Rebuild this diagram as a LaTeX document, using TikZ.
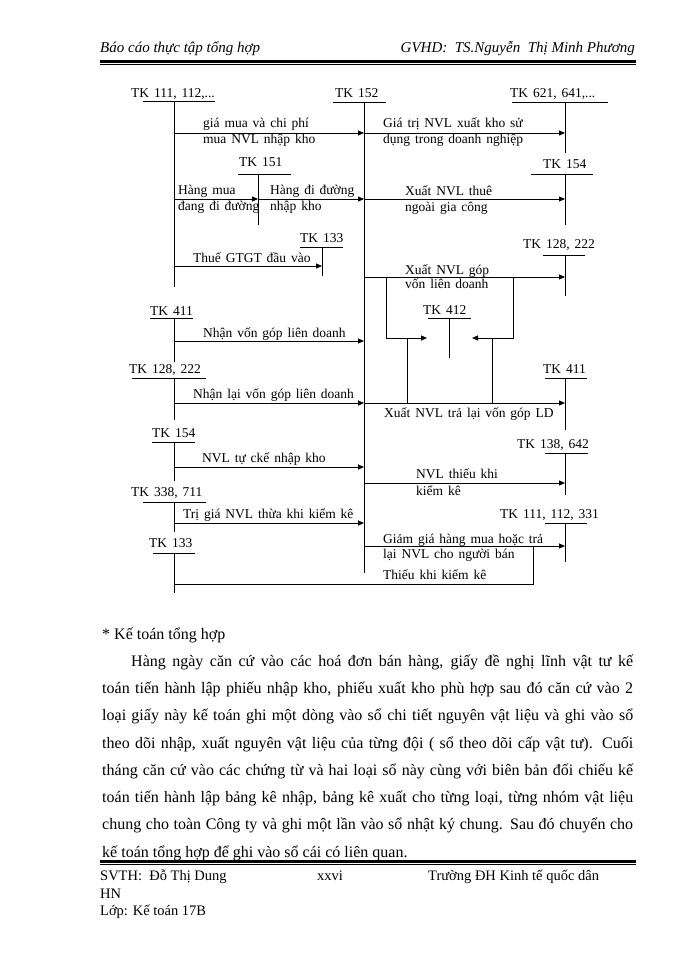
\documentclass[tikz,border=0pt]{standalone}
\usepackage{fontspec}
\setmainfont{Liberation Serif}
\usetikzlibrary{arrows.meta}
\newcommand\lblfont{\fontsize{13.5}{16}\selectfont\spaceskip=0.36em\relax}
\newcommand\tacct[9]{%
  \node[lbl] (#1) at (#3,#4) {#2};
  \draw[tline] (#5,#7) -- (#6,#7);
  \draw[tline] (#8,#7) coordinate (#1t) -- (#8,#9) coordinate (#1b);}
\begin{document}
\begin{tikzpicture}[x=1pt,y=-1pt,
  lbl/.style={anchor=base west,inner sep=0pt,font=\lblfont},
  tline/.style={line width=0.9pt},
  arr/.style={line width=0.9pt,-{Triangle[length=6pt,width=5pt]}},
  body/.style={anchor=base west,inner sep=0pt,font=\fontsize{16}{19}\selectfont},
  foot/.style={anchor=base west,inner sep=0pt,font=\fontsize{14.5}{17}\selectfont},
  head/.style={inner sep=0pt,font=\fontsize{15}{18}\selectfont\itshape}]
\useasboundingbox (0,0) rectangle (700,960);
\fill[white] (0,0) rectangle (700,960);
% header
\node[head,anchor=base west] (h1) at (100,53) {Báo cáo thực tập tổng hợp};
\node[head,anchor=base east] (h2) at (635,53) {GVHD:\ \ TS.Nguyễn\ \ Thị\ Minh\ Phương};
\draw[line width=2.5pt] (100,61.5) -- (636,61.5);
\draw[line width=0.8pt] (100,64.8) -- (636,64.8);
% accounts
\tacct{a111}{TK 111, 112,...}{131}{98}{143}{215}{101}{174}{287}
\tacct{a152}{TK 152}{335}{98}{333}{386}{102}{364}{573}
\tacct{a621}{TK 621, 641,...}{510}{98}{512}{608}{102}{565}{153}
\tacct{a151}{TK 151}{239}{167}{238}{291}{174}{258}{225}
\tacct{a154r}{TK 154}{543}{168}{531}{593}{174}{565}{225}
\tacct{a133u}{TK 133}{300}{242}{300}{343}{247}{322}{276}
\tacct{a128r}{TK 128, 222}{523}{248}{543}{585}{255}{565}{296}
\tacct{a411l}{TK 411}{150}{315}{150}{193}{318}{174}{362}
\tacct{a412}{TK 412}{423}{314}{428}{471}{318}{449}{358}
\tacct{a128l}{TK 128, 222}{129}{373}{132}{206}{378}{174}{420}
\tacct{a411r}{TK 411}{543}{373}{545}{587}{378}{565}{430}
\tacct{a154l}{TK 154}{152}{437}{152}{195}{442}{174}{481}
\tacct{a138}{TK 138, 642}{517}{448}{545}{588}{453}{565}{495}
\tacct{a338}{TK 338, 711}{131}{496}{143}{206}{502}{174}{532}
\tacct{a111r}{TK 111, 112, 331}{500}{518}{545}{587}{523}{565}{562}
\tacct{a133l}{TK 133}{149}{547}{153}{195}{553}{174}{593}
% arrows
\draw[arr] (a111t |- 0,133) -- (a152t |- 0,133);
\draw[arr] (a152t |- 0,133) -- (a621t |- 0,133);
\draw[arr] (a111t |- 0,199) -- (a151t |- 0,199);
\draw[arr] (a151t |- 0,199) -- (a152t |- 0,199);
\draw[arr] (a152t |- 0,199) -- (a154rt |- 0,199);
\draw[arr] (a111t |- 0,266) -- (a133ut |- 0,266);
\draw[arr] (a152t |- 0,277) -- (a128rt |- 0,277);
\coordinate (g1) at (386,277);
\coordinate (g2) at (513,277);
\coordinate (p412l) at (427,338);
\coordinate (p412r) at (472,338);
\coordinate (r1) at (407,338);
\coordinate (r2) at (492,338);
\draw[arr] (g1) -- (g1 |- p412l) -- (p412l);
\draw[arr] (g2) -- (g2 |- p412r) -- (p412r);
\draw[arr] (a411lt |- 0,341) -- (a152t |- 0,341);
\draw[arr] (a128lt |- 0,403) -- (a152t |- 0,403);
\draw[arr] (a152t |- 0,403) -- (a411rt |- 0,403);
\draw[tline] (r1) -- (r1 |- 0,403);
\draw[tline] (r2) -- (r2 |- 0,403);
\draw[arr] (a154lt |- 0,467) -- (a152t |- 0,467);
\draw[arr] (a152t |- 0,483) -- (a138t |- 0,483);
\draw[arr] (a338t |- 0,523) -- (a152t |- 0,523);
\draw[arr] (a152t |- 0,546) -- (a111rt |- 0,546);
\coordinate (c1) at (533,584);
\draw[tline] (a133lt |- c1) -- (c1) -- (c1 |- 0,546);
% labels
\node[lbl] (l1a) at (203,128) {giá mua và chi phí};
\node[lbl] (l1b) at (203,144) {mua NVL nhập kho};
\node[lbl] (l2a) at (383,128) {Giá trị NVL xuất kho sử};
\node[lbl] (l2b) at (383,144) {dụng trong doanh nghiệp};
\node[lbl] (l3a) at (178,194) {Hàng mua};
\node[lbl] (l3b) at (178,210) {đang đi đường};
\node[lbl] (l4a) at (270,194) {Hàng đi đường};
\node[lbl] (l4b) at (270,210) {nhập kho};
\node[lbl] (l5a) at (405,195) {Xuất NVL thuê};
\node[lbl] (l5b) at (405,211) {ngoài gia công};
\node[lbl] (l6) at (193,262) {Thuế GTGT đầu vào};
\node[lbl] (l7a) at (405,274) {Xuất NVL góp};
\node[lbl] (l7b) at (405,288) {vốn liên doanh};
\node[lbl] (l8) at (203,337) {Nhận vốn góp liên doanh};
\node[lbl] (l9) at (193,398) {Nhận lại vốn góp liên doanh};
\node[lbl] (l10) at (384,417) {Xuất NVL trả lại vốn góp LD};
\node[lbl] (l11) at (202,462) {NVL tự ckế nhập kho};
\node[lbl] (l12a) at (416,478) {NVL thiếu khi};
\node[lbl] (l12b) at (416,495) {kiểm kê};
\node[lbl] (l13) at (183,518) {Trị giá NVL thừa khi kiểm kê};
\node[lbl] (l14a) at (383,543) {Giảm giá hàng mua hoặc trả};
\node[lbl] (l14b) at (383,558) {lại NVL cho người bán};
\node[lbl] (l15) at (383,579) {Thiếu khi kiểm kê};
% body text
\node[body] (t0) at (102,639) {* Kế toán tổng hợp};
\node[body] (t1) at (131,666.25) {\makebox[502pt][s]{Hàng ngày căn cứ vào các hoá đơn bán hàng, giấy đề nghị lĩnh vật tư kế}};
\node[body] (t2) at (102,693.5) {\makebox[531pt][s]{toán tiến hành lập phiếu nhập kho, phiếu xuất kho phù hợp sau đó căn cứ vào 2}};
\node[body] (t3) at (102,720.75) {\makebox[531pt][s]{loại giấy này kế toán ghi một dòng vào sổ chi tiết nguyên vật liệu và ghi vào sổ}};
\node[body] (t4) at (102,748) {\makebox[531pt][s]{theo dõi nhập, xuất nguyên vật liệu của từng đội ( sổ theo dõi cấp vật tư). Cuối}};
\node[body] (t5) at (102,775.25) {\makebox[531pt][s]{tháng căn cứ vào các chứng từ và hai loại sổ này cùng với biên bản đối chiếu kế}};
\node[body] (t6) at (102,802.5) {\makebox[531pt][s]{toán tiến hành lập bảng kê nhập, bảng kê xuất cho từng loại, từng nhóm vật liệu}};
\node[body] (t7) at (102,829.75) {\makebox[531pt][s]{chung cho toàn Công ty và ghi một lần vào sổ nhật ký chung. Sau đó chuyển cho}};
\node[body] (t8) at (102,857) {kế toán tổng hợp để ghi vào sổ cái có liên quan.};
% footer
\draw[line width=2.5pt] (100,861.5) -- (636,861.5);
\draw[line width=0.8pt] (100,864.8) -- (636,864.8);
\node[foot] (f1) at (100,880) {SVTH:\ \ Đỗ Thị\ Dung};
\node[foot] (f2) at (317,880) {xxvi};
\node[foot] (f3) at (428,880) {Trường\ ĐH Kinh tế quốc dân};
\node[foot] (f4) at (100,898) {HN};
\node[foot] (f5) at (100,915) {Lớp: Kế toán 17B};
\end{tikzpicture}
\end{document}
